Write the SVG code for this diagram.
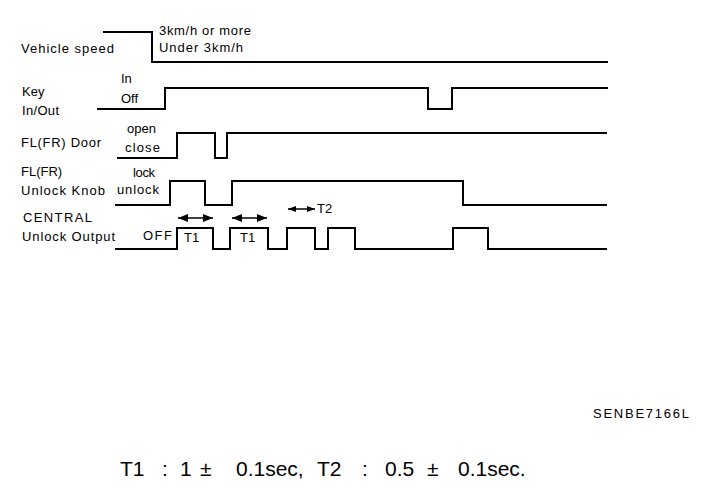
<svg xmlns="http://www.w3.org/2000/svg" width="704" height="496" viewBox="0 0 704 496">
<style>
.lbl{font-family:"Liberation Sans",Arial,sans-serif;font-size:13px;fill:#000}
.wave{fill:none;stroke:#000;stroke-width:2;stroke-linejoin:miter}
.dim{fill:none;stroke:#000;stroke-width:1.5}
.big{font-family:"Liberation Sans",Arial,sans-serif;font-size:21px;fill:#000}
</style>
<defs>
<marker id="ah" viewBox="0 0 10 8" refX="10" refY="4" markerWidth="10" markerHeight="8" markerUnits="userSpaceOnUse" orient="auto-start-reverse">
<path d="M0,0 L10,4 L0,8 Z" fill="#000"/>
</marker>
<marker id="ahs" viewBox="0 0 8 6" refX="8" refY="3" markerWidth="8" markerHeight="6" markerUnits="userSpaceOnUse" orient="auto-start-reverse">
<path d="M0,0 L8,3 L0,6 Z" fill="#000"/>
</marker>
</defs>
<rect width="704" height="496" fill="#fff"/>

<g id="vehicle-speed">
<text class="lbl" x="21" y="53" textLength="93">Vehicle speed</text>
<text class="lbl" x="159" y="35" textLength="92">3km/h or more</text>
<text class="lbl" x="159" y="52" textLength="84">Under 3km/h</text>
</g>
<g id="key">
<text class="lbl" x="22" y="96">Key</text>
<text class="lbl" x="22" y="115" textLength="37">In/Out</text>
<text class="lbl" x="121" y="83">In</text>
<text class="lbl" x="121" y="103">Off</text>
</g>
<g id="door">
<text class="lbl" x="21" y="147" textLength="80">FL(FR) Door</text>
<text class="lbl" x="127" y="133" textLength="29">open</text>
<text class="lbl" x="125" y="152" textLength="35">close</text>
</g>
<g id="knob">
<text class="lbl" x="21" y="176">FL(FR)</text>
<text class="lbl" x="21" y="195" textLength="84">Unlock Knob</text>
<text class="lbl" x="133" y="177" textLength="22">lock</text>
<text class="lbl" x="117" y="194" textLength="42">unlock</text>
</g>
<g id="central">
<text class="lbl" x="23" y="222" textLength="69">CENTRAL</text>
<text class="lbl" x="22" y="241" textLength="93">Unlock Output</text>
<text class="lbl" x="143" y="240" textLength="29">OFF</text>
<text class="lbl" x="184" y="242">T1</text>
<text class="lbl" x="240" y="242">T1</text>
<text class="lbl" x="317" y="213">T2</text>
</g>

<g id="connectors">
<path class="wave" d="M103,32 H152 V62 H608"/>
<path class="wave" d="M97,109 H165 V88 H428 V109 H452 V88 H608"/>
<path class="wave" d="M117,158 H177 V133 H215 V158 H227 V133 H607"/>
<path class="wave" d="M115,205 H170 V181 H205 V205 H232 V181 H463 V205 H607"/>
<path class="wave" d="M115,249 H177 V228 H213 V249 H230 V228 H268 V249 H287 V228 H315 V249 H328 V228 H355 V249 H453 V228 H488 V249 H607"/>
<line class="dim" x1="178" y1="218" x2="213" y2="218" marker-start="url(#ah)" marker-end="url(#ah)"/>
<line class="dim" x1="232" y1="218" x2="267" y2="218" marker-start="url(#ah)" marker-end="url(#ah)"/>
<line class="dim" x1="288" y1="209" x2="315" y2="209" marker-start="url(#ahs)" marker-end="url(#ahs)"/>
</g>

<text class="lbl" x="593" y="418" font-size="12" textLength="96">SENBE7166L</text>
<text class="big" y="476"><tspan x="120">T1</tspan><tspan x="162">:</tspan><tspan x="180">1</tspan><tspan x="200">±</tspan><tspan x="236">0.1sec,</tspan><tspan x="317">T2</tspan><tspan x="362">:</tspan><tspan x="385">0.5</tspan><tspan x="427">±</tspan><tspan x="458">0.1sec.</tspan></text>
</svg>
